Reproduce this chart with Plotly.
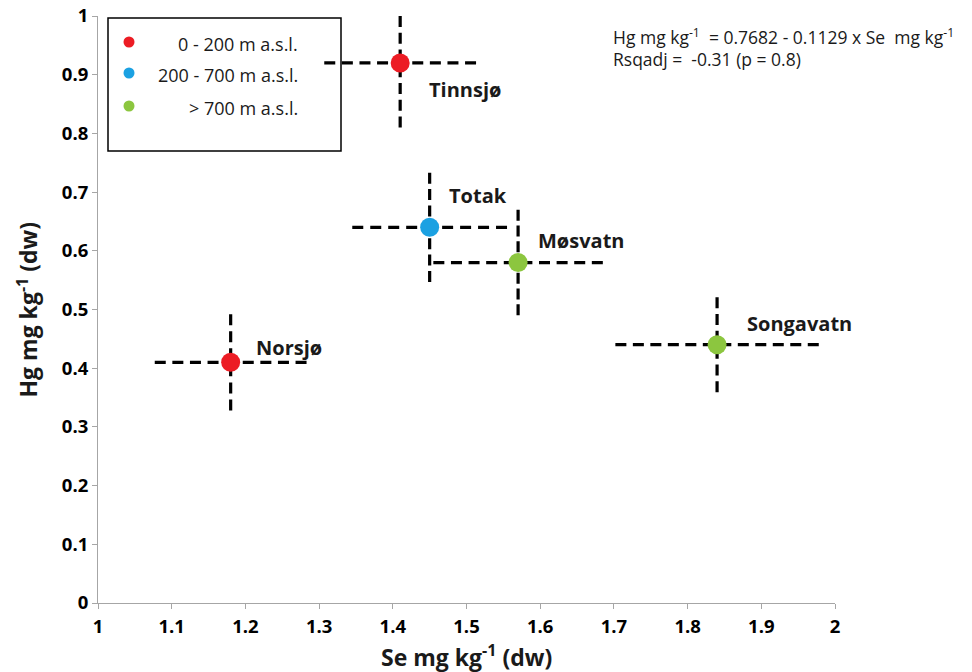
import plotly.graph_objects as go

lakes = ["Tinnsjø", "Totak", "Møsvatn", "Songavatn", "Norsjø"]
se = [1.41, 1.45, 1.57, 1.84, 1.18]
hg = [0.92, 0.64, 0.58, 0.44, 0.41]
se_err = [0.103, 0.105, 0.115, 0.138, 0.103]
hg_err = [0.11, 0.093, 0.09, 0.081, 0.082]
groups = ["0 - 200 m a.s.l.", "200 - 700 m a.s.l.", "> 700 m a.s.l.", "> 700 m a.s.l.", "0 - 200 m a.s.l."]
group_names = ["0 - 200 m a.s.l.", "200 - 700 m a.s.l.", "> 700 m a.s.l."]
group_colors = ["#ec1c24", "#1ba1e2", "#8cc63f"]
label_dx = [0.037, 0.023, 0.024, 0.038, 0.032]
label_dy = [-0.045, 0.055, 0.037, 0.037, 0.025]
x_ticks = ["1", "1.1", "1.2", "1.3", "1.4", "1.5", "1.6", "1.7", "1.8", "1.9", "2"]
y_ticks = ["0", "0.1", "0.2", "0.3", "0.4", "0.5", "0.6", "0.7", "0.8", "0.9", "1"]

# plot area pixel geometry
L, R, T, B = 98, 835, 16, 603
W, H = 972, 672
FONT = "Open Sans"


def dash_for(length_px, d=11.0, g0=6.0):
    n = max(2, round((length_px + g0) / (d + g0)))
    g = (length_px - n * d) / (n - 1)
    return "%.2fpx,%.2fpx" % (d, g)


fig = go.Figure()

x_scale = (R - L) / 1.0
y_scale = (B - T) / 1.0
for i in range(len(lakes)):
    x_top = min(hg[i] + hg_err[i], 1.0)
    fig.add_trace(go.Scatter(x=[se[i] - se_err[i], se[i] + se_err[i]], y=[hg[i], hg[i]],
                             mode="lines",
                             line=dict(color="black", width=3.2, dash=dash_for(2 * se_err[i] * x_scale)),
                             showlegend=False, hoverinfo="skip"))
    fig.add_trace(go.Scatter(x=[se[i], se[i]], y=[hg[i] - hg_err[i], x_top],
                             mode="lines",
                             line=dict(color="black", width=3.2, dash=dash_for((x_top - hg[i] + hg_err[i]) * y_scale)),
                             showlegend=False, hoverinfo="skip"))

colors = [group_colors[group_names.index(g)] for g in groups]
fig.add_trace(go.Scatter(x=se, y=hg, mode="markers",
                         marker=dict(size=19, color=colors, line=dict(width=0)),
                         showlegend=False, hovertext=lakes))

for i in range(len(lakes)):
    fig.add_annotation(x=se[i] + label_dx[i], y=hg[i] + label_dy[i], text="<b>%s</b>" % lakes[i],
                       showarrow=False, xanchor="left", yanchor="middle",
                       font=dict(size=20, color="#1a1a1a", family=FONT))


def px(x):
    return (x - L) / (R - L)


def py(y):
    return (B - y) / (B - T)


# manual legend
fig.add_shape(type="rect", xref="paper", yref="paper", x0=px(108), x1=px(341), y0=py(151), y1=py(18),
              line=dict(color="black", width=1.5), fillcolor="rgba(0,0,0,0)")
leg_y = [42, 73, 106]
for k, name in enumerate(group_names):
    cx, cy, r = 129, leg_y[k], 5.5
    fig.add_shape(type="circle", xref="paper", yref="paper",
                  x0=px(cx - r), x1=px(cx + r), y0=py(cy + r), y1=py(cy - r),
                  fillcolor=group_colors[k], line=dict(width=0))
    fig.add_annotation(xref="paper", yref="paper", x=px(300), y=py(leg_y[k] + 2), text=name,
                       showarrow=False, xanchor="right", yanchor="middle",
                       font=dict(size=18, color="#1a1a1a", family=FONT))

fig.add_annotation(xref="paper", yref="paper", x=px(611), y=py(36),
                   text="Hg mg kg<sup>-1</sup>  = 0.7682 - 0.1129 x Se  mg kg<sup>-1</sup>",
                   showarrow=False, xanchor="left", yanchor="middle", align="left",
                   font=dict(size=17.5, color="#1a1a1a", family=FONT))
fig.add_annotation(xref="paper", yref="paper", x=px(611), y=py(59),
                   text="Rsqadj =  -0.31 (p = 0.8)",
                   showarrow=False, xanchor="left", yanchor="middle", align="left",
                   font=dict(size=17.5, color="#1a1a1a", family=FONT))

# axis titles
fig.add_annotation(xref="paper", yref="paper", x=0.5, y=py(656),
                   text="<b>Se mg kg<sup>-1</sup> (dw)</b>", showarrow=False,
                   xanchor="center", yanchor="middle", font=dict(size=23, color="#1a1a1a", family=FONT))
fig.add_annotation(xref="paper", yref="paper", x=px(27), y=0.5, textangle=-90,
                   text="<b>Hg mg kg<sup>-1</sup> (dw)</b>", showarrow=False,
                   xanchor="center", yanchor="middle", font=dict(size=23, color="#1a1a1a", family=FONT))

axis_font = dict(size=18.5, color="black", family=FONT)
fig.update_layout(
    width=W, height=H,
    margin=dict(l=L, r=W - R, t=T, b=H - B),
    plot_bgcolor="white", paper_bgcolor="white",
    xaxis=dict(range=[1, 2], tickvals=[float(t) for t in x_ticks],
               ticktext=["<b>%s</b>" % t for t in x_ticks], automargin=False,
               showgrid=False, zeroline=False, showline=True, linecolor="#a6a6a6", linewidth=1,
               ticks="outside", ticklen=5, tickcolor="#a6a6a6", tickfont=axis_font,
               ticklabelstandoff=2),
    yaxis=dict(range=[0, 1], tickvals=[float(t) for t in y_ticks],
               ticktext=["<b>%s</b>" % t for t in y_ticks], automargin=False,
               showgrid=False, zeroline=False, showline=True, linecolor="#a6a6a6", linewidth=1,
               ticks="outside", ticklen=5, tickcolor="#a6a6a6", tickfont=axis_font),
)

fig.write_html("out.html")
